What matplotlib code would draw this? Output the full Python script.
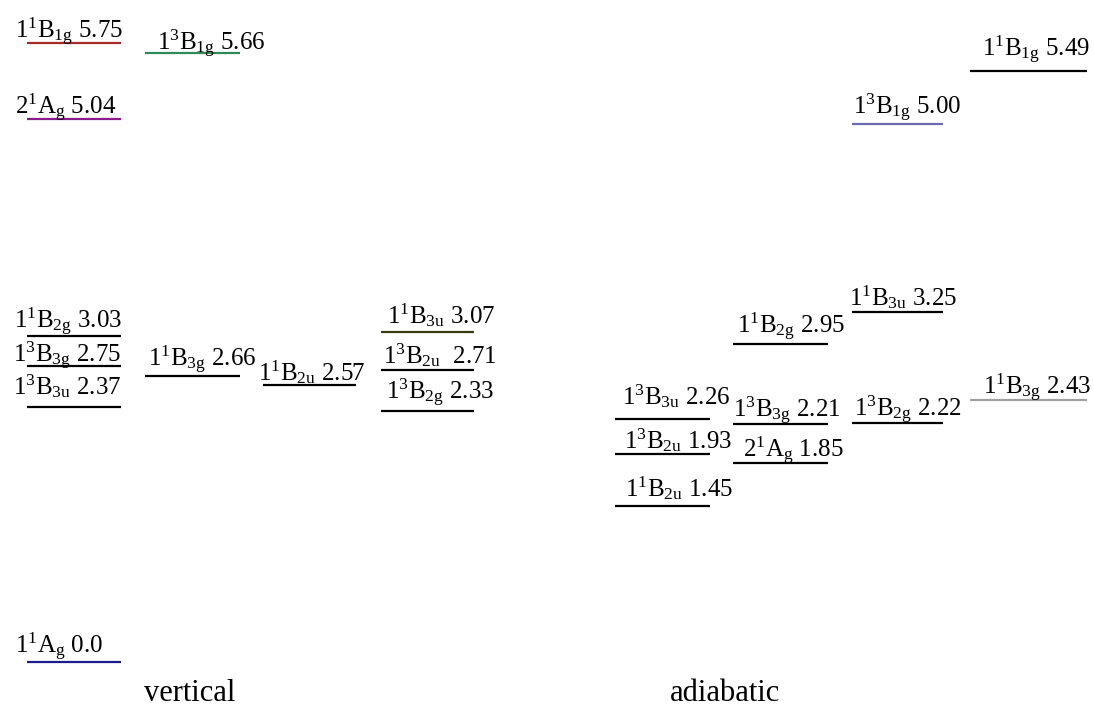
import matplotlib
matplotlib.use("Agg")
import matplotlib.pyplot as plt

plt.rcParams['font.family'] = ['Liberation Serif', 'DejaVu Serif']
plt.rcParams['mathtext.fontset'] = 'custom'
plt.rcParams['mathtext.rm'] = 'Liberation Serif'
plt.rcParams['mathtext.it'] = 'Liberation Serif:italic'
plt.rcParams['mathtext.bf'] = 'Liberation Serif:bold'

# vertical excitation energies (eV)
vert_states = [r'1^1B_{1g}', r'1^3B_{1g}', r'2^1A_g', r'1^1B_{2g}', r'1^3B_{3g}', r'1^3B_{3u}',
               r'1^1B_{3g}', r'1^1B_{2u}', r'1^1B_{3u}', r'1^3B_{2u}', r'1^3B_{2g}', r'1^1A_g']
vert_energy = [5.75, 5.66, 5.04, 3.03, 2.75, 2.37, 2.66, 2.57, 3.07, 2.71, 2.33, 0.0]
vert_text = ['5.75', '5.66', '5.04', '3.03', '2.75', '2.37', '2.66', '2.57', '3.07', ' 2.71', '2.33', '0.0']
vert_col = [0, 1, 0, 0, 0, 0, 1, 2, 3, 3, 3, 0]
vert_color = ['#a52a2a', '#2e8b57', '#8b1a8b', 'black', 'black', 'black',
              'black', 'black', '#3a3a14', 'black', 'black', '#1c1c8c']

# adiabatic excitation energies (eV)
adia_states = [r'1^1B_{1g}', r'1^3B_{1g}', r'1^1B_{3u}', r'1^1B_{2g}', r'1^3B_{3u}', r'1^3B_{3g}',
               r'1^3B_{2g}', r'1^1B_{3g}', r'1^3B_{2u}', r'2^1A_g', r'1^1B_{2u}']
adia_energy = [5.49, 5.00, 3.25, 2.95, 2.26, 2.21, 2.22, 2.43, 1.93, 1.85, 1.45]
adia_text = ['5.49', '5.00', '3.25', '2.95', '2.26', '2.21', '2.22', '2.43', '1.93', '1.85', '1.45']
adia_col = [7, 6, 6, 5, 4, 5, 6, 7, 4, 5, 4]
adia_color = ['black', '#6a6ab0', 'black', 'black', 'black', 'black',
              'black', '#a0a0a0', 'black', 'black', 'black']

# column extents in pixels
col_x = [(27, 121), (145, 240), (263, 356), (381, 474),
         (615, 710), (733, 828), (852, 943), (970, 1087)]

# label left edge (px) and baseline height above the level line (px)
vert_lx = [15, 157, 15, 14, 13, 13, 148, 258, 387, 383, 386, 15]
vert_dy = [5, 2, 5, 7, 4, 12, 9, 5, 8, 7, 12, 9]
adia_lx = [982, 853, 849, 737, 622, 733, 854, 983, 624, 743, 625]
adia_dy = [15, 9, 7, 11, 14, 7, 7, 6, 6, 5, 10]

W, H = 1094, 713
px_per_ev = 107.65
y0 = 662  # pixel row of 0 eV

fig = plt.figure(figsize=(W / 100, H / 100), dpi=100)
ax = fig.add_axes([0, 0, 1, 1])
ax.set_xlim(0, W)
ax.set_ylim((y0 - H) / px_per_ev, y0 / px_per_ev)
ax.axis('off')


def draw_levels(states, energy, text, cols, colors, lx, dy):
    for s, e, t, c, col, x, d in zip(states, energy, text, cols, colors, lx, dy):
        x1, x2 = col_x[c]
        ax.plot([x1, x2], [e, e], color=col, lw=1.6, solid_capstyle='butt')
        ax.annotate(r'$\mathregular{' + s + '}$ ' + t, xy=(x, e), xytext=(0, d),
                    textcoords='offset pixels', ha='left', va='baseline', fontsize=18)


draw_levels(vert_states, vert_energy, vert_text, vert_col, vert_color, vert_lx, vert_dy)
draw_levels(adia_states, adia_energy, adia_text, adia_col, adia_color, adia_lx, adia_dy)

ax.text(190, (y0 - 701) / px_per_ev, 'vertical', ha='center', va='baseline', fontsize=22)
ax.text(725, (y0 - 701) / px_per_ev, 'adiabatic', ha='center', va='baseline', fontsize=22)

fig.savefig('out.png', dpi=100)
